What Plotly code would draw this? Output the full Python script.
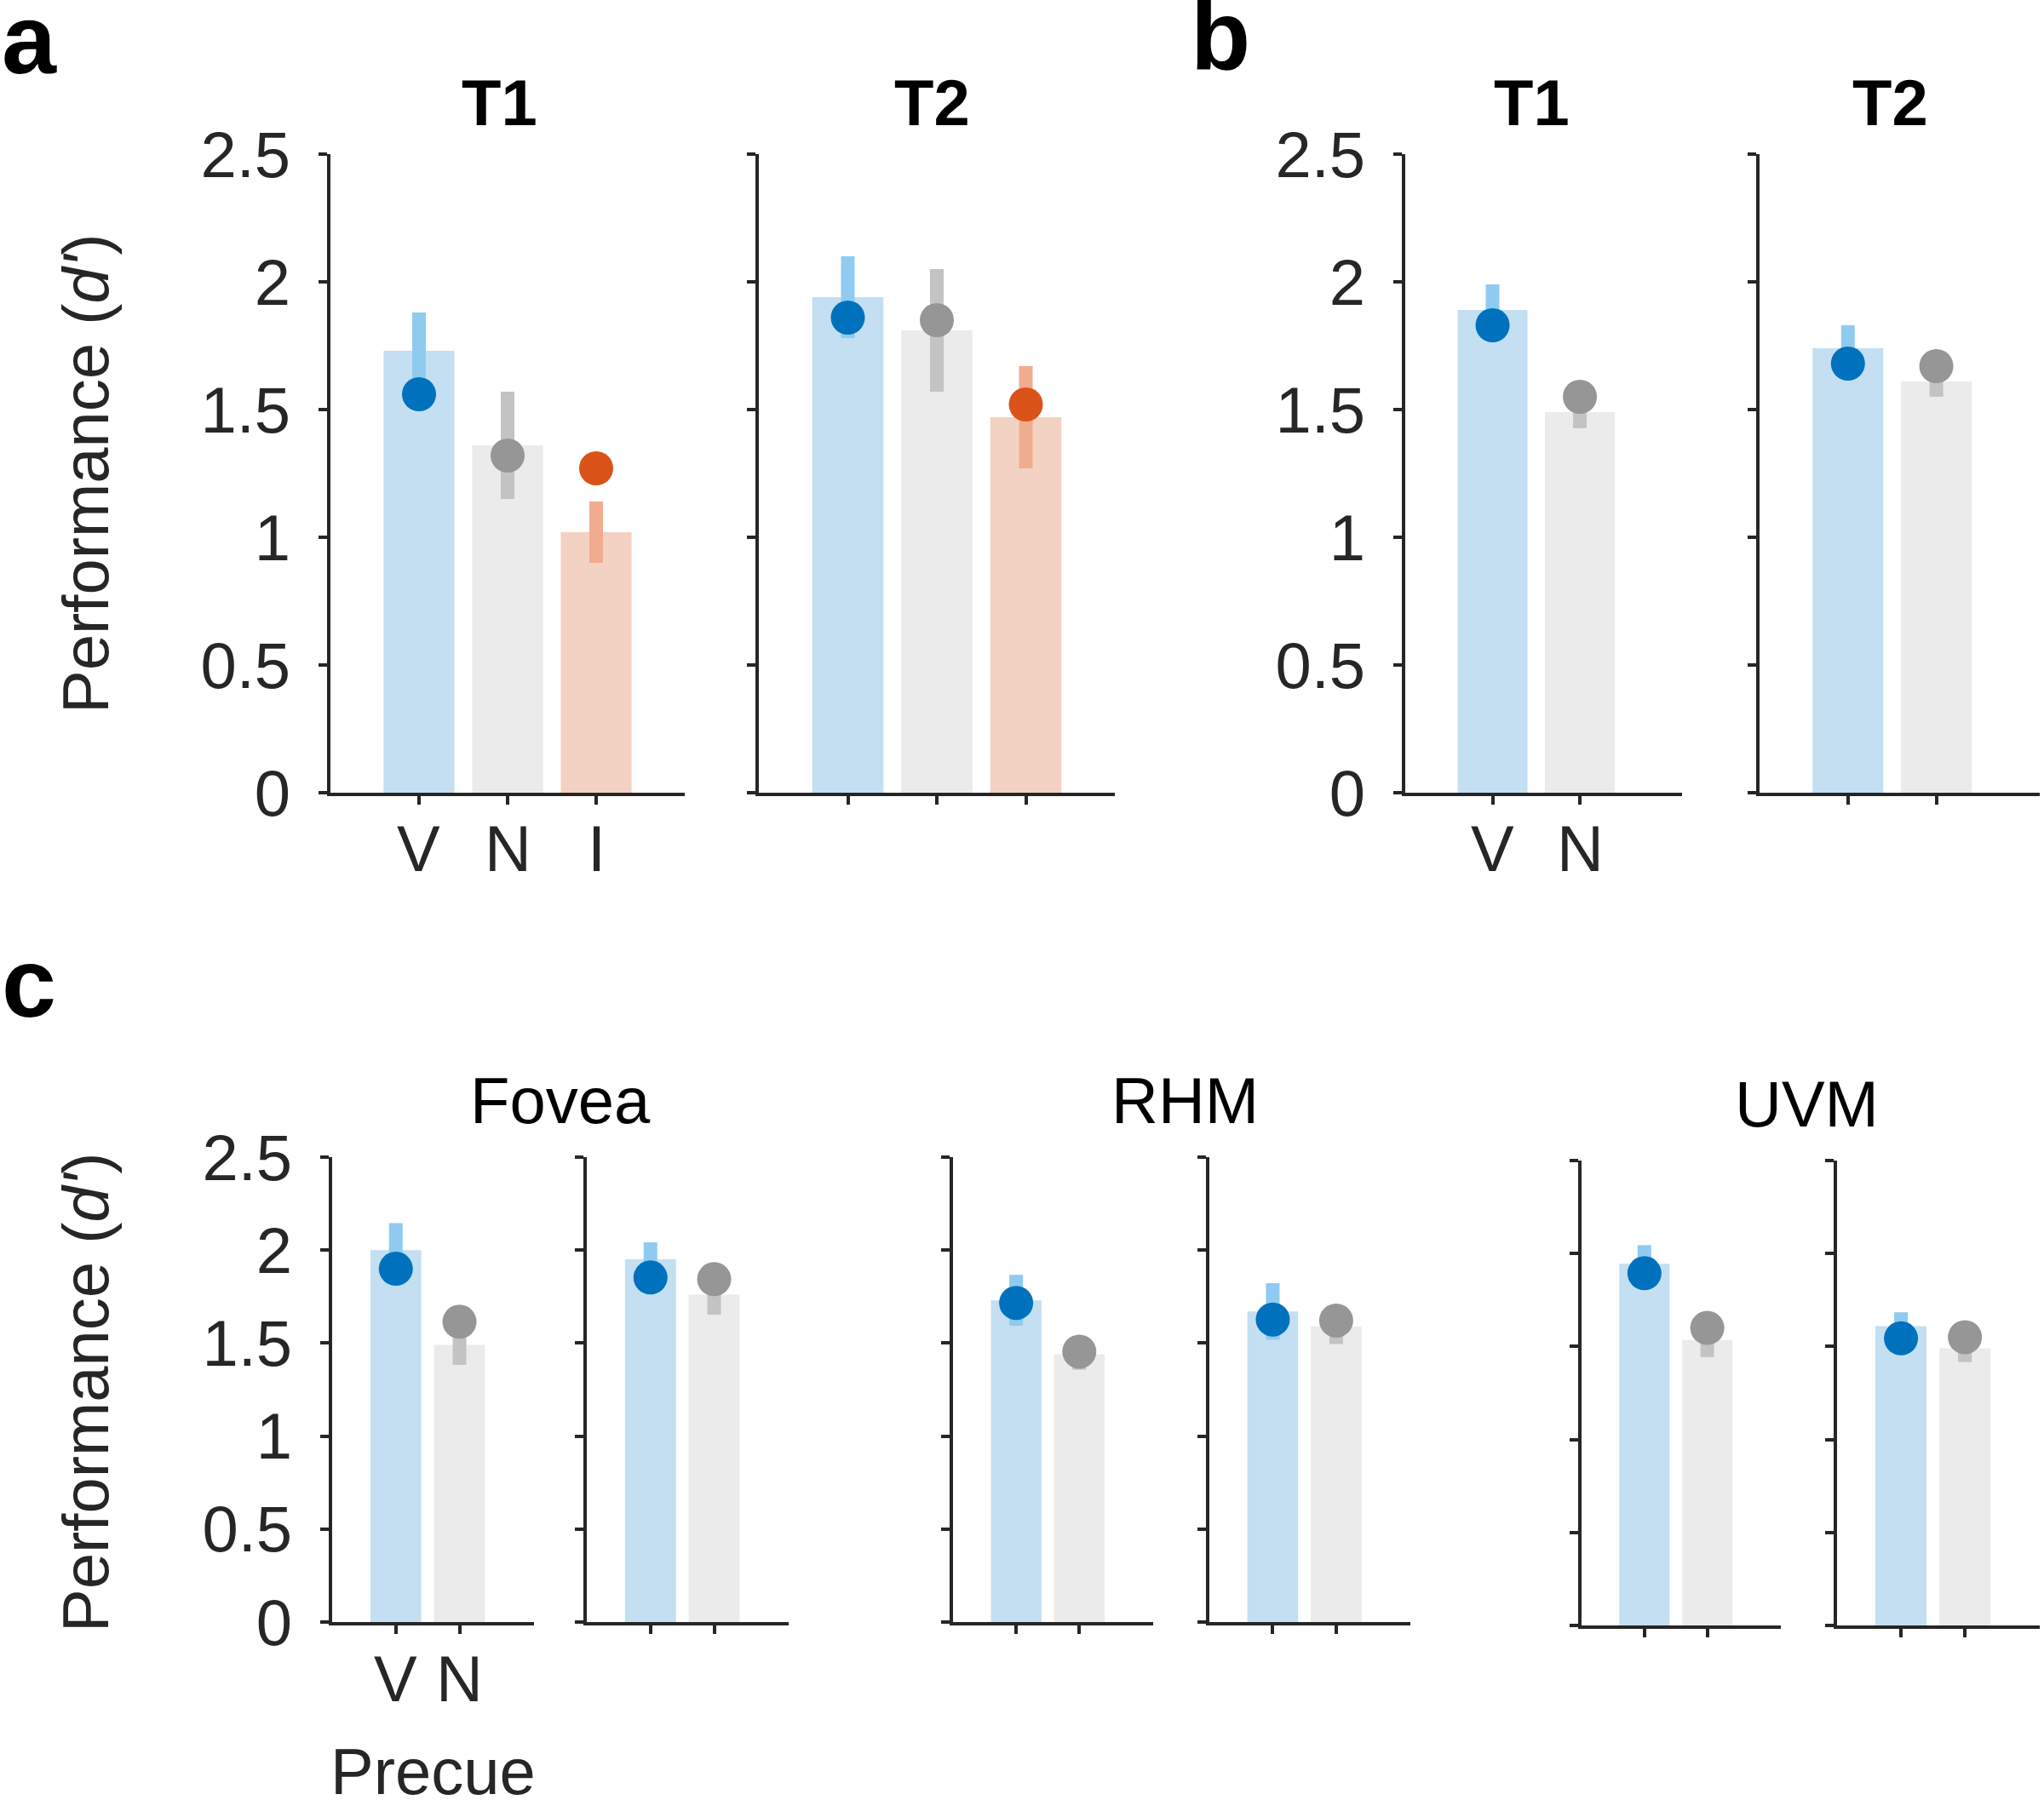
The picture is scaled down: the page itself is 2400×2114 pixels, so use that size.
import plotly.graph_objects as go

# ---- data (V = valid, N = neutral, I = invalid precue) ----
cues_a = ["V", "N", "I"]
cues_bc = ["V", "N"]

# panel a: T1, T2
a_bar = [[1.73, 1.36, 1.02], [1.94, 1.81, 1.47]]
a_err = [[0.15, 0.21, 0.12], [0.16, 0.24, 0.20]]
a_dot = [[1.56, 1.32, 1.27], [1.86, 1.85, 1.52]]

# panel b: T1, T2
b_bar = [[1.89, 1.49], [1.74, 1.61]]
b_err = [[0.10, 0.063], [0.09, 0.06]]
b_dot = [[1.83, 1.55], [1.68, 1.67]]

# panel c: Fovea (T1, T2), RHM (T1, T2), UVM (T1, T2)
c_bar = [[2.00, 1.49], [1.95, 1.76], [1.73, 1.44], [1.67, 1.59], [1.945, 1.535], [1.61, 1.49]]
c_err = [[0.145, 0.107], [0.092, 0.107], [0.137, 0.083], [0.152, 0.095], [0.10, 0.092], [0.074, 0.074]]
c_dot = [[1.90, 1.615], [1.853, 1.844], [1.716, 1.454], [1.627, 1.621], [1.894, 1.60], [1.544, 1.55]]

y_ticks = [0, 0.5, 1, 1.5, 2, 2.5]
y_ticktext = ["0", "0.5", "1", "1.5", "2", "2.5"]

# ---- style ----
W, H = 2400, 2114
FONT = "Liberation Sans"
AXC = "#262626"
FS = 76
BAR_C = {"V": "#c3dff1", "N": "#ebebeb", "I": "#f3d2c3"}
ERR_C = {"V": "#8fcbf1", "N": "#c3c3c3", "I": "#f1ac90"}
DOT_C = {"V": "#0072bd", "N": "#969696", "I": "#d95319"}

# subplot boxes in pixels: x0, x1, y_top, y_bottom, xmax, y labels, x labels
boxes = [
    (388, 804, 181, 931, 4.0, True, True),
    (891, 1309, 181, 931, 4.0, False, False),
    (1650, 1975, 181, 931, 3.17, True, True),
    (2066, 2395, 181, 931, 3.17, False, False),
    (390, 627, 1359, 1905, 3.17, True, True),
    (689, 926, 1359, 1905, 3.17, False, False),
    (1119, 1354, 1359, 1905, 3.17, False, False),
    (1420, 1656, 1359, 1905, 3.17, False, False),
    (1857, 2091, 1363, 1909, 3.17, False, False),
    (2157, 2395, 1363, 1909, 3.17, False, False),
]

series = [(cues_a, a_bar[i], a_err[i], a_dot[i]) for i in range(2)]
series += [(cues_bc, b_bar[i], b_err[i], b_dot[i]) for i in range(2)]
series += [(cues_bc, c_bar[i], c_err[i], c_dot[i]) for i in range(6)]

fig = go.Figure()
layout = {}
ann = []


def text(s, x, y, size=FS, bold=False, color="black", angle=0, xanchor="center"):
    ann.append(dict(text=f"<b>{s}</b>" if bold else s, x=x / W, y=1 - y / H,
                    xref="paper", yref="paper", showarrow=False,
                    xanchor=xanchor, yanchor="middle", textangle=angle,
                    font=dict(family=FONT, size=size, color=color)))


for k, (box, (cues, bars, errs, dots)) in enumerate(zip(boxes, series), start=1):
    x0, x1, yt, yb, xmax, ylab, xlab = box
    xa, ya = f"x{k}", f"y{k}"
    xs = list(range(1, len(cues) + 1))
    for i, c in enumerate(cues):
        fig.add_trace(go.Bar(x=[xs[i]], y=[bars[i]], width=0.8, xaxis=xa, yaxis=ya,
                             marker=dict(color=BAR_C[c], line=dict(width=0))))
    for i, c in enumerate(cues):
        fig.add_trace(go.Scatter(x=[xs[i]], y=[bars[i]], mode="markers", xaxis=xa, yaxis=ya,
                                 marker=dict(size=1, color="rgba(0,0,0,0)"),
                                 error_y=dict(type="data", array=[errs[i]], width=0,
                                              thickness=16, color=ERR_C[c])))
    for i, c in enumerate(cues):
        fig.add_trace(go.Scatter(x=[xs[i]], y=[dots[i]], mode="markers", xaxis=xa, yaxis=ya,
                                 marker=dict(size=40, color=DOT_C[c], line=dict(width=0))))
    if xlab:
        for i, c in enumerate(cues):
            ann.append(dict(text=c, x=xs[i], xref=xa, y=1 - (yb + 66) / H, yref="paper",
                            showarrow=False, xanchor="center", yanchor="middle",
                            font=dict(family=FONT, size=FS, color=AXC)))

    sfx = "" if k == 1 else str(k)
    layout[f"xaxis{sfx}"] = dict(
        domain=[x0 / W, x1 / W], range=[0, xmax], anchor=ya, automargin=False,
        showline=True, linecolor=AXC, linewidth=3.5,
        ticks="outside", ticklen=10, tickwidth=3.5, tickcolor=AXC,
        tickvals=xs, showticklabels=False,
        showgrid=False, zeroline=False, fixedrange=True)
    layout[f"yaxis{sfx}"] = dict(
        domain=[1 - yb / H, 1 - yt / H], range=[0, 2.5], anchor=xa, automargin=False,
        showline=True, linecolor=AXC, linewidth=3.5,
        ticks="outside", ticklen=10, tickwidth=3.5, tickcolor=AXC,
        tickvals=y_ticks, ticktext=y_ticktext, showticklabels=ylab,
        ticklabelstandoff=18,
        tickfont=dict(family=FONT, size=FS, color=AXC),
        showgrid=False, zeroline=False, fixedrange=True)

# panel letters
text("a", 0, 46, size=115, bold=True, xanchor="left")
text("b", 1396, 42, size=115, bold=True, xanchor="left")
text("c", 0, 1154, size=115, bold=True, xanchor="left")

# titles
text("T1", 586, 120, bold=True)
text("T2", 1094, 120, bold=True)
text("T1", 1798, 120, bold=True)
text("T2", 2219, 120, bold=True)
text("Fovea", 658, 1292)
text("RHM", 1391, 1292)
text("UVM", 2121, 1296)

# axis titles
text("Performance (<i>d'</i>)", 100, 556, color=AXC, angle=-90)
text("Performance (<i>d'</i>)", 100, 1635, color=AXC, angle=-90)
text("Precue", 508, 2080, color=AXC)

fig.update_layout(width=W, height=H,
                  margin=dict(l=0, r=0, t=0, b=0, pad=0, autoexpand=False),
                  paper_bgcolor="white", plot_bgcolor="white",
                  showlegend=False, barmode="overlay",
                  annotations=ann, **layout)

fig.write_html("out.html", config={"displayModeBar": False},
               post_script="document.body.style.margin='0';document.body.style.overflow='hidden';")
